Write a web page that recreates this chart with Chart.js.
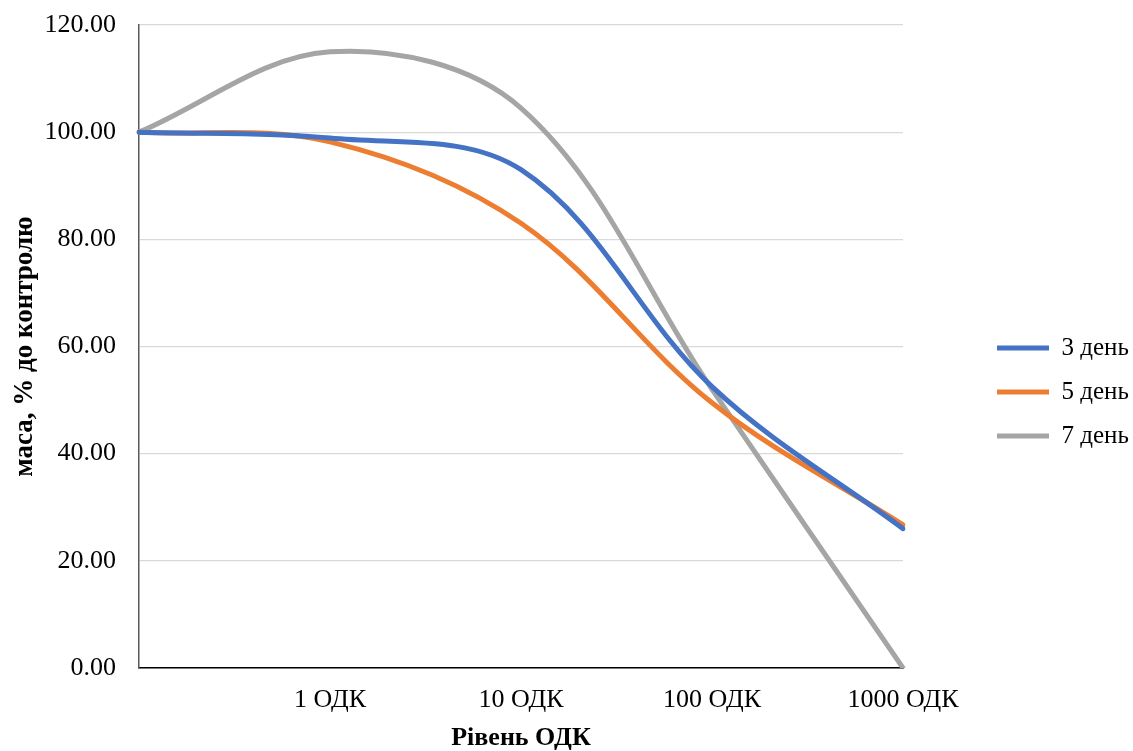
<!DOCTYPE html>
<html>
<head>
<meta charset="utf-8">
<script src="https://cdn.jsdelivr.net/npm/chart.js@4"></script>
<style>
  body { margin: 0; background: #fff; }
  canvas { display: block; }
</style>
</head>
<body>
<canvas id="chart" width="1133" height="751"></canvas>
<script>
const levels = ['', '1 ОДК', '10 ОДК', '100 ОДК', '1000 ОДК'];
const day3 = [100, 98.9, 93, 52.5, 26];
const day5 = [100, 98.2, 83, 49.5, 26.7];
const day7 = [100, 115, 104.5, 52, 0];

const serif = "'Liberation Serif', 'Times New Roman', serif";
Chart.defaults.font.family = serif;
Chart.defaults.color = '#000';

function line(label, data, color) {
  return {
    label, data,
    borderColor: color, backgroundColor: color,
    borderWidth: 5, borderCapStyle: 'round',
    pointRadius: 0, pointStyle: 'line', tension: 0.35, fill: false
  };
}

new Chart(document.getElementById('chart').getContext('2d'), {
  type: 'line',
  data: {
    labels: levels,
    datasets: [
      line('3 день', day3, '#4472C4'),
      line('5 день', day5, '#ED7D31'),
      line('7 день', day7, '#A5A5A5')
    ]
  },
  options: {
    responsive: false,
    devicePixelRatio: 1,
    animation: false,
    layout: { padding: { top: 25, bottom: 0, left: 0, right: 0 } },
    plugins: {
      tooltip: { enabled: false },
      legend: {
        position: 'right',
        maxWidth: 155,
        title: { display: true, text: '', font: { size: 6, lineHeight: 1 }, padding: 1 },
        labels: {
          usePointStyle: true, pointStyleWidth: 52, padding: 19,
          font: { size: 25, family: serif }, color: '#000'
        }
      }
    },
    scales: {
      x: {
        offset: false,
        grid: { display: false, drawTicks: false },
        border: { color: '#000', width: 1.5 },
        ticks: { padding: 17, font: { size: 26 }, maxRotation: 0, autoSkip: false },
        title: { display: true, text: 'Рівень ОДК', font: { size: 26, weight: 'bold', lineHeight: 1 }, padding: { top: 0, bottom: 0 } },
        afterFit: s => { s.height = 83; }
      },
      y: {
        min: 0, max: 120,
        grid: { color: '#d9d9d9', lineWidth: 1.3, drawTicks: false },
        border: { color: '#595959', width: 1.5 },
        ticks: { stepSize: 20, padding: 23, font: { size: 26 }, callback: v => v.toFixed(2) },
        title: { display: true, text: 'маса, % до контролю', font: { size: 27, weight: 'bold' }, padding: { top: 9, bottom: 0 } },
        afterFit: s => { s.width = 139; s.paddingTop = 0; s.paddingBottom = 0; }
      },
      yR: {
        position: 'right',
        display: true,
        grid: { display: false, drawTicks: false },
        border: { display: false },
        ticks: { display: false },
        afterFit: s => { s.width = 75; }
      }
    }
  }
});
</script>
</body>
</html>
